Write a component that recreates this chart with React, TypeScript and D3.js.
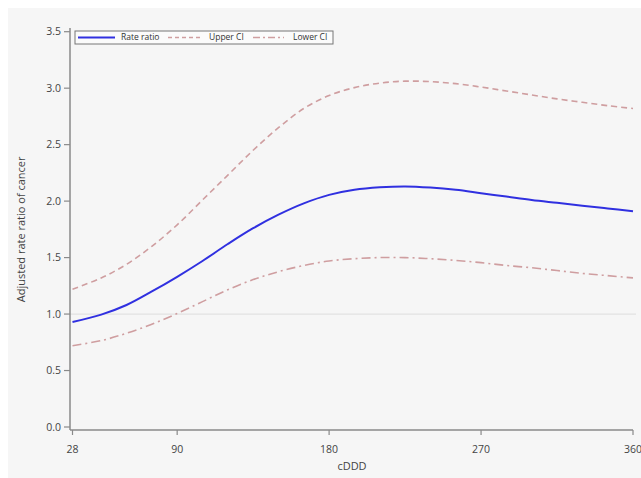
import React, { useEffect, useRef } from "react";
import * as d3 from "d3";

// cumulative DDD grid and estimated curves
const doses = [28, 45, 60, 75, 90, 105, 120, 135, 150, 165, 180, 195, 210, 225, 240, 255, 270, 285, 300, 315, 330, 345, 360];
const rateRatio = [0.93, 0.995, 1.08, 1.2, 1.33, 1.47, 1.62, 1.76, 1.88, 1.98, 2.055, 2.1, 2.122, 2.13, 2.12, 2.1, 2.07, 2.04, 2.01, 1.985, 1.96, 1.935, 1.91];
const upperCI = [1.22, 1.32, 1.44, 1.6, 1.79, 2.01, 2.23, 2.45, 2.65, 2.82, 2.935, 3.005, 3.045, 3.062, 3.058, 3.04, 3.01, 2.975, 2.94, 2.905, 2.875, 2.845, 2.82];
const lowerCI = [0.72, 0.765, 0.83, 0.91, 1.005, 1.11, 1.215, 1.305, 1.375, 1.43, 1.47, 1.49, 1.5, 1.5, 1.49, 1.475, 1.455, 1.43, 1.41, 1.385, 1.36, 1.34, 1.32];

const xTicks = [28, 90, 180, 270, 360];
const yTicks = [0, 0.5, 1, 1.5, 2, 2.5, 3, 3.5];

const W = 641;
const H = 478;
const FONT = "'Open Sans', 'DejaVu Sans', sans-serif";

const App = () => {
  const svgRef = useRef<SVGSVGElement | null>(null);

  useEffect(() => {
    const svg = d3.select(svgRef.current);
    svg.selectAll("*").remove();

    svg.append("rect").attr("x", 8).attr("y", 8).attr("width", W - 8).attr("height", H - 8).attr("fill", "#f6f6f6");

    const x = d3.scaleLinear().domain([28, 360]).range([72.5, 633]);
    const y = d3.scaleLinear().domain([0, 3.5]).range([427, 31.7]);
    const axisColor = "#8a8a8a";
    const left = 70;
    const bottom = 430;

    // reference line at 1
    svg
      .append("line")
      .attr("x1", left)
      .attr("x2", 636)
      .attr("y1", y(1))
      .attr("y2", y(1))
      .attr("stroke", "#e2e2e2")
      .attr("stroke-width", 1.2);

    // axes
    svg.append("line").attr("x1", left).attr("x2", left).attr("y1", 28).attr("y2", bottom)
      .attr("stroke", axisColor).attr("stroke-width", 1.5);
    svg.append("line").attr("x1", left).attr("x2", x(360)).attr("y1", bottom).attr("y2", bottom)
      .attr("stroke", axisColor).attr("stroke-width", 1.5);

    const yt = svg.append("g").selectAll("g").data(yTicks).join("g");
    yt.append("line").attr("x1", left - 6).attr("x2", left).attr("y1", (d) => y(d)).attr("y2", (d) => y(d))
      .attr("stroke", axisColor).attr("stroke-width", 1.2);
    yt.append("text")
      .attr("x", left - 9)
      .attr("y", (d) => y(d))
      .attr("dy", "0.35em")
      .attr("text-anchor", "end")
      .attr("font-family", FONT)
      .attr("font-size", 10.5)
      .attr("fill", "#444")
      .text((d) => d3.format(".1f")(d));

    const xt = svg.append("g").selectAll("g").data(xTicks).join("g");
    xt.append("line").attr("x1", (d) => x(d)).attr("x2", (d) => x(d)).attr("y1", bottom).attr("y2", bottom + 5)
      .attr("stroke", axisColor).attr("stroke-width", 1.2);
    xt.append("text")
      .attr("x", (d) => x(d))
      .attr("y", 453)
      .attr("text-anchor", "middle")
      .attr("font-family", FONT)
      .attr("font-size", 10.5)
      .attr("fill", "#444")
      .text((d) => d);

    svg.append("text")
      .attr("x", 352)
      .attr("y", 470)
      .attr("text-anchor", "middle")
      .attr("font-family", FONT)
      .attr("font-size", 11)
      .attr("fill", "#444")
      .text("cDDD");

    svg.append("text")
      .attr("transform", `translate(25,${(31.7 + 427) / 2}) rotate(-90)`)
      .attr("text-anchor", "middle")
      .attr("font-family", FONT)
      .attr("font-size", 11)
      .attr("fill", "#444")
      .text("Adjusted rate ratio of cancer");

    // curves
    const line = d3
      .line<number>()
      .x((_, i) => x(doses[i]))
      .y((d) => y(d))
      .curve(d3.curveCatmullRom.alpha(0.5));

    const pink = "#cf9ea0";
    const blue = "#3030e0";
    svg.append("path").attr("d", line(upperCI)).attr("fill", "none").attr("stroke", pink)
      .attr("stroke-width", 1.6).attr("stroke-dasharray", "6,4");
    svg.append("path").attr("d", line(lowerCI)).attr("fill", "none").attr("stroke", pink)
      .attr("stroke-width", 1.6).attr("stroke-dasharray", "9,4,2,4");
    svg.append("path").attr("d", line(rateRatio)).attr("fill", "none").attr("stroke", blue)
      .attr("stroke-width", 2);

    // legend
    const lg = svg.append("g");
    lg.append("rect").attr("x", 75).attr("y", 31).attr("width", 258).attr("height", 13)
      .attr("fill", "#fbfbfb").attr("stroke", "#777").attr("stroke-width", 1);
    const items = [
      { label: "Rate ratio", color: blue, dash: "", w: 2, x0: 78, x1: 115, tx: 121 },
      { label: "Upper CI", color: pink, dash: "4,3", w: 1.4, x0: 168, x1: 203, tx: 209 },
      { label: "Lower CI", color: pink, dash: "7,3,2,3", w: 1.4, x0: 253, x1: 284, tx: 293 },
    ];
    items.forEach((it) => {
      lg.append("line").attr("x1", it.x0).attr("x2", it.x1).attr("y1", 37.5).attr("y2", 37.5)
        .attr("stroke", it.color).attr("stroke-width", it.w).attr("stroke-dasharray", it.dash);
      lg.append("text").attr("x", it.tx).attr("y", 37.5).attr("dy", "0.35em")
        .attr("font-family", FONT).attr("font-size", 8.5).attr("fill", "#333").text(it.label);
    });
  }, []);

  return (
    <div>
      <svg ref={svgRef} width={W} height={H} style={{ position: "absolute", left: 0, top: 0 }} />
    </div>
  );
};

export default App;
